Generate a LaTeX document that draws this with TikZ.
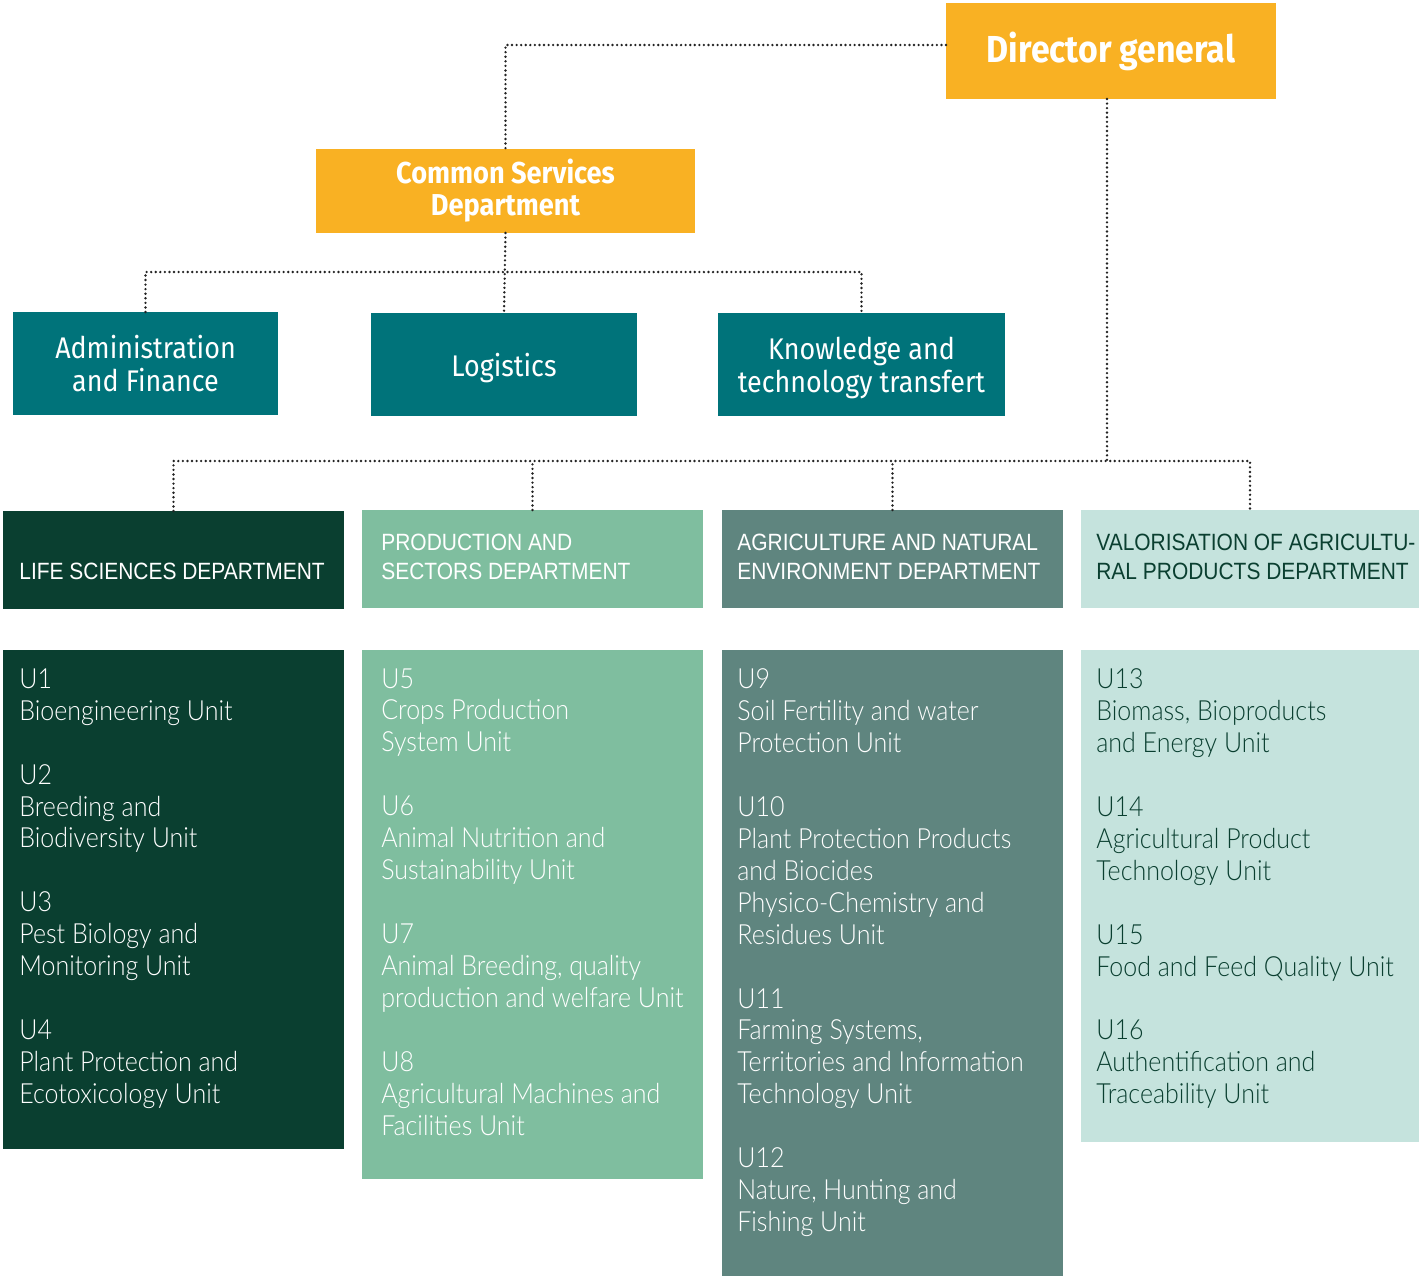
\documentclass[tikz,border=0pt]{standalone}
\usepackage{fontspec}
\setmainfont{Liberation Sans}
\newfontfamily\boxfont{Fira Sans}[FakeStretch=0.9]
\newfontfamily\deptfont{Liberation Sans}[FakeStretch=0.89]
\newfontfamily\unitfont{Lato Light}[FakeStretch=0.9]
\usetikzlibrary{calc}

\definecolor{dgorange}{HTML}{F9B123}
\definecolor{svcteal}{HTML}{00737A}
\definecolor{lifegreen}{HTML}{0A3F30}
\definecolor{prodgreen}{HTML}{7FBE9F}
\definecolor{agrigreen}{HTML}{5F857F}
\definecolor{valogreen}{HTML}{C5E3DD}
\definecolor{linkgray}{HTML}{222222}

\newcommand{\px}{0.02cm}

\begin{document}
\begin{tikzpicture}[x=0.02cm, y=-0.02cm,
    box/.style={anchor=north west, inner sep=0pt, outer sep=0pt},
    toptext/.style={text=white, align=center, font=\boxfont\fontsize{17}{18.7}\selectfont},
    depttext/.style={anchor=north west, inner sep=0pt, align=left, font=\deptfont\fontsize{13.4}{16.4}\selectfont},
    unittext/.style={anchor=north west, inner sep=0pt, align=left, font=\unitfont\fontsize{15.8}{18.2}\selectfont},
    link/.style={draw=linkgray, line width=1.5pt, line cap=round, dash pattern=on 0pt off 2.6pt}]

    \useasboundingbox (0,0) rectangle (1419,1276);

    % director general and common services
    \node[box, fill=dgorange, minimum width=330*\px, minimum height=96*\px, toptext,
          font=\boxfont\bfseries\fontsize{21.4}{24}\selectfont] (dg) at (946,3) {Director general};
    \node[box, fill=dgorange, minimum width=379*\px, minimum height=84*\px, toptext,
          font=\boxfont\bfseries\fontsize{17.2}{18.2}\selectfont] (csd) at (316,149) {Common Services\\Department};

    % services
    \node[box, fill=svcteal, minimum width=265*\px, minimum height=103*\px, toptext] (admin) at (13,312) {Administration\\and Finance};
    \node[box, fill=svcteal, minimum width=266*\px, minimum height=103*\px, toptext, text depth=0pt] (logistics) at (371,313) {Logistics};
    \node[box, fill=svcteal, minimum width=287*\px, minimum height=103*\px, toptext, text depth=0pt] (ktt) at (718,313) {Knowledge and\\technology transfert};

    % departments
    \node[box, fill=lifegreen, minimum width=341*\px, minimum height=98*\px] (lsd) at (3,511) {};
    \node[box, fill=prodgreen, minimum width=341*\px, minimum height=98*\px] (psd) at (362,510) {};
    \node[box, fill=agrigreen, minimum width=341*\px, minimum height=98*\px] (aned) at (722,510) {};
    \node[box, fill=valogreen, minimum width=338*\px, minimum height=98*\px] (vapd) at (1081,510) {};

    \node[depttext, text=white] (lsdtext) at ($(lsd.north west)+(16,52)$) {LIFE SCIENCES DEPARTMENT};
    \node[depttext, text=white] (psdtext) at ($(psd.north west)+(19,24)$) {PRODUCTION AND\\SECTORS DEPARTMENT};
    \node[depttext, text=white] (anedtext) at ($(aned.north west)+(15,24)$) {AGRICULTURE AND NATURAL\\ENVIRONMENT DEPARTMENT};
    \node[depttext, text=lifegreen] (vapdtext) at ($(vapd.north west)+(15,24)$) {VALORISATION OF AGRICULTU-\\RAL PRODUCTS DEPARTMENT};

    % units
    \node[box, fill=lifegreen, minimum width=341*\px, minimum height=499*\px] (lsdu) at (3,650) {};
    \node[box, fill=prodgreen, minimum width=341*\px, minimum height=529*\px] (psdu) at (362,650) {};
    \node[box, fill=agrigreen, minimum width=341*\px, minimum height=626*\px] (anedu) at (722,650) {};
    \node[box, fill=valogreen, minimum width=338*\px, minimum height=492*\px] (vapdu) at (1081,650) {};

    \node[unittext, text=white] (lsdunits) at ($(lsdu.north west)+(16,18)$)
        {U1\\Bioengineering Unit\\[18.2pt]
         U2\\Breeding and\\Biodiversity Unit\\[18.2pt]
         U3\\Pest Biology and\\Monitoring Unit\\[18.2pt]
         U4\\Plant Protection and\\Ecotoxicology Unit};
    \node[unittext, text=white] (psdunits) at ($(psdu.north west)+(19,18)$)
        {U5\\Crops Production\\System Unit\\[18.2pt]
         U6\\Animal Nutrition and\\Sustainability Unit\\[18.2pt]
         U7\\Animal Breeding, quality\\production and welfare Unit\\[18.2pt]
         U8\\Agricultural Machines and\\Facilities Unit};
    \node[unittext, text=white] (anedunits) at ($(anedu.north west)+(15,18)$)
        {U9\\Soil Fertility and water\\Protection Unit\\[18.2pt]
         U10\\Plant Protection Products\\and Biocides\\Physico-Chemistry and\\Residues Unit\\[18.2pt]
         U11\\Farming Systems,\\Territories and Information\\Technology Unit\\[18.2pt]
         U12\\Nature, Hunting and\\Fishing Unit};
    \node[unittext, text=lifegreen] (vapdunits) at ($(vapdu.north west)+(15,18)$)
        {U13\\Biomass, Bioproducts\\and Energy Unit\\[18.2pt]
         U14\\Agricultural Product\\Technology Unit\\[18.2pt]
         U15\\Food and Feed Quality Unit\\[18.2pt]
         U16\\Authentification and\\Traceability Unit};

    % dotted links
    \coordinate (csbus) at (505,272);
    \coordinate (dbus) at (1107,461);
    \draw[link] ($(dg.west)+(0,-6)$) -| (csd.north);
    \draw[link] (csd.south) -- (logistics.north);
    \draw[link] (admin.north) |- (csbus) -| (ktt.north);
    \draw[link] (dbus |- dg.south) -- (dbus);
    \draw[link] (lsd.north) |- (dbus) -| (vapd.north);
    \draw[link] (psd.north) -- (psd.north |- dbus);
    \draw[link] (aned.north) -- (aned.north |- dbus);
\end{tikzpicture}
\end{document}
